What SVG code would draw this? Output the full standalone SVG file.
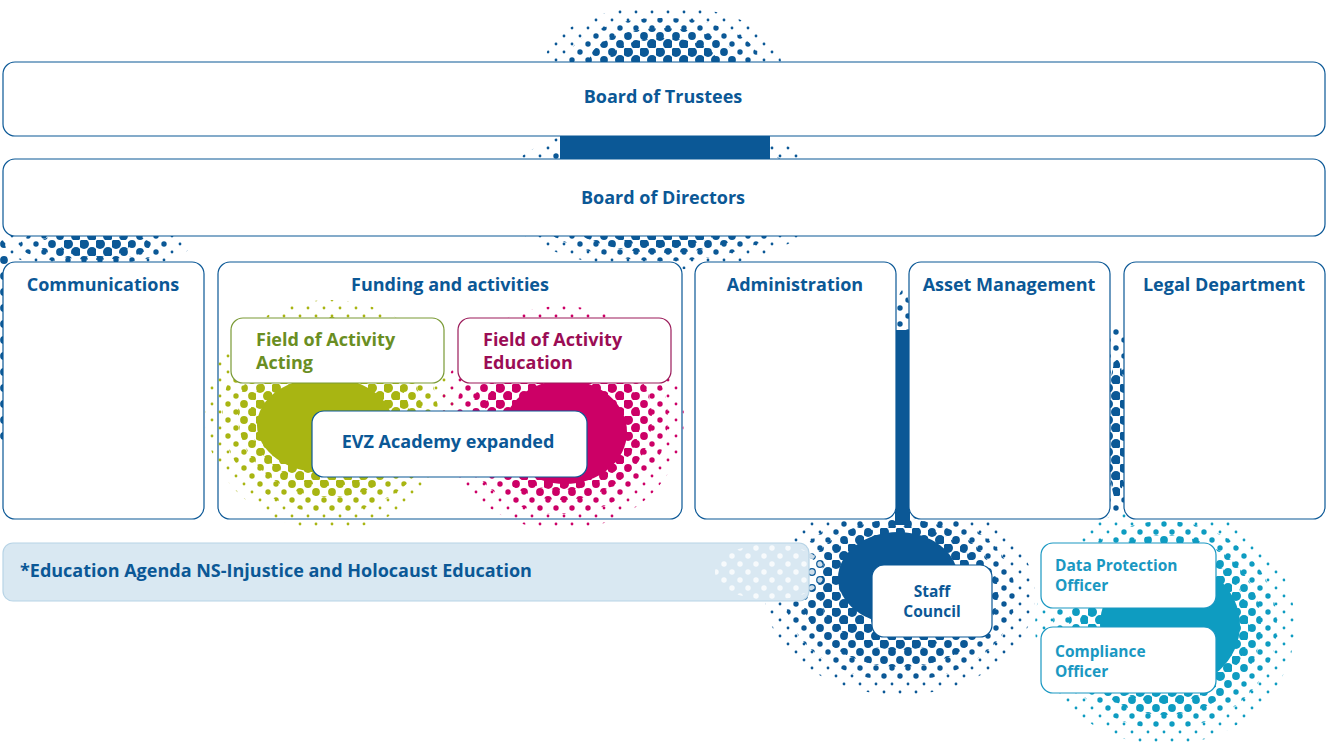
<svg xmlns="http://www.w3.org/2000/svg" width="1326" height="742" viewBox="0 0 1326 742">
<style>
.box{fill:#fff;stroke:#0b5896;stroke-width:1.2}
.t{font-family:"Open Sans","Noto Sans",sans-serif;font-weight:700;font-size:18px;fill:#0b5896}
.m{text-anchor:middle}
.g{fill:#6a8e23}
.p{fill:#9b0d55}
.c{fill:#1a98c2;font-size:15.5px}
.s{font-size:15.5px}
</style>
<defs>
<pattern id="pS" width="16" height="16" patternUnits="userSpaceOnUse"><circle cx="4" cy="4" r="1.4" fill="#fff"/><circle cx="12" cy="12" r="1.4" fill="#fff"/></pattern>
<pattern id="pM" width="16" height="16" patternUnits="userSpaceOnUse"><circle cx="4" cy="4" r="2.7" fill="#fff"/><circle cx="12" cy="12" r="2.7" fill="#fff"/></pattern>
<pattern id="pL" width="16" height="16" patternUnits="userSpaceOnUse"><circle cx="4" cy="4" r="3.9" fill="#fff"/><circle cx="12" cy="12" r="3.9" fill="#fff"/></pattern>
<pattern id="pX" width="16" height="16" patternUnits="userSpaceOnUse"><circle cx="4" cy="4" r="5" fill="#fff"/><circle cx="12" cy="12" r="5" fill="#fff"/></pattern>
<mask id="mBlue" maskUnits="userSpaceOnUse" x="0" y="0" width="1326" height="742">
<ellipse cx="663" cy="62" rx="118" ry="56" fill="url(#pS)"/>
<ellipse cx="663" cy="62" rx="96" ry="44" fill="url(#pM)"/>
<ellipse cx="663" cy="62" rx="74" ry="34" fill="url(#pL)"/>
<ellipse cx="663" cy="62" rx="54" ry="24" fill="url(#pX)"/>
<ellipse cx="663" cy="195" rx="165" ry="75" fill="url(#pS)"/>
<ellipse cx="663" cy="195" rx="140" ry="66" fill="url(#pM)"/>
<ellipse cx="663" cy="195" rx="115" ry="58" fill="url(#pL)"/>
<ellipse cx="663" cy="195" rx="85" ry="52" fill="url(#pX)"/>
<rect x="560" y="130" width="210" height="36" fill="#fff"/>
<ellipse cx="95" cy="245" rx="95" ry="24" fill="url(#pS)"/>
<ellipse cx="95" cy="245" rx="75" ry="19" fill="url(#pM)"/>
<ellipse cx="95" cy="245" rx="55" ry="15" fill="url(#pL)"/>
<ellipse cx="95" cy="245" rx="35" ry="12" fill="url(#pX)"/>
<ellipse cx="2" cy="340" rx="10" ry="100" fill="url(#pL)"/>
<ellipse cx="903" cy="420" rx="14" ry="130" fill="url(#pM)"/>
<rect x="895" y="330" width="15" height="195" fill="#fff"/>
<ellipse cx="900" cy="595" rx="135" ry="100" fill="url(#pS)"/>
<ellipse cx="900" cy="595" rx="115" ry="86" fill="url(#pM)"/>
<ellipse cx="900" cy="593" rx="98" ry="74" fill="url(#pL)"/>
<ellipse cx="900" cy="588" rx="82" ry="62" fill="url(#pX)"/>
<ellipse cx="898" cy="578" rx="60" ry="46" fill="#fff"/>
<ellipse cx="1117" cy="420" rx="12" ry="100" fill="url(#pM)"/>
<ellipse cx="1117" cy="430" rx="9" ry="70" fill="url(#pX)"/>
</mask>
<mask id="mGreen" maskUnits="userSpaceOnUse" x="0" y="0" width="1326" height="742">
<ellipse cx="330" cy="415" rx="125" ry="115" fill="url(#pS)"/>
<ellipse cx="330" cy="415" rx="108" ry="98" fill="url(#pM)"/>
<ellipse cx="330" cy="415" rx="92" ry="82" fill="url(#pL)"/>
<ellipse cx="330" cy="418" rx="80" ry="68" fill="url(#pX)"/>
<ellipse cx="325" cy="425" rx="68" ry="48" fill="#fff"/>
</mask>
<mask id="mPink" maskUnits="userSpaceOnUse" x="0" y="0" width="1326" height="742">
<ellipse cx="562" cy="418" rx="122" ry="112" fill="url(#pS)"/>
<ellipse cx="562" cy="418" rx="106" ry="96" fill="url(#pM)"/>
<ellipse cx="562" cy="418" rx="90" ry="82" fill="url(#pL)"/>
<ellipse cx="562" cy="420" rx="78" ry="70" fill="url(#pX)"/>
<ellipse cx="565" cy="432" rx="62" ry="52" fill="#fff"/>
</mask>
<mask id="mCyan" maskUnits="userSpaceOnUse" x="0" y="0" width="1326" height="742">
<ellipse cx="1165" cy="625" rx="130" ry="120" fill="url(#pS)"/>
<ellipse cx="1165" cy="625" rx="112" ry="104" fill="url(#pM)"/>
<ellipse cx="1165" cy="625" rx="96" ry="90" fill="url(#pL)"/>
<ellipse cx="1165" cy="625" rx="84" ry="78" fill="url(#pX)"/>
<ellipse cx="1170" cy="625" rx="70" ry="64" fill="#fff"/>
</mask>
</defs>
<rect width="1326" height="742" fill="#fff"/>
<g id="halftones">
<rect width="1326" height="742" fill="#0b5896" mask="url(#mBlue)"/>
<rect width="1326" height="742" fill="#0e9cc1" mask="url(#mCyan)"/>
</g>
<g id="connectors"></g>
<g id="board-of-trustees"><rect class="box" x="3" y="62" width="1322" height="74" rx="12"/><text class="t m" x="663" y="103">Board of Trustees</text></g>
<g id="board-of-directors"><rect class="box" x="3" y="159" width="1322" height="77" rx="12"/><text class="t m" x="663" y="204">Board of Directors</text></g>
<g id="communications"><rect class="box" x="3" y="262" width="201" height="257" rx="12"/><text class="t m" x="103" y="291">Communications</text></g>
<g id="funding"><rect class="box" x="218" y="262" width="464" height="257" rx="12"/><text class="t m" x="450" y="291">Funding and activities</text></g>
<g id="administration"><rect class="box" x="695" y="262" width="201" height="257" rx="12"/><text class="t m" x="795" y="291">Administration</text></g>
<g id="asset-management"><rect class="box" x="909" y="262" width="201" height="257" rx="12"/><text class="t m" x="1009" y="291">Asset Management</text></g>
<g id="legal-department"><rect class="box" x="1124" y="262" width="201" height="257" rx="12"/><text class="t m" x="1224" y="291">Legal Department</text></g>
<g id="activity-halftones">
<rect width="1326" height="742" fill="#a8b512" mask="url(#mGreen)"/>
<rect width="1326" height="742" fill="#cc0066" mask="url(#mPink)"/>
</g>
<g id="field-acting"><rect x="231" y="318" width="213" height="65" rx="12" fill="#fff" stroke="#7a9a35" stroke-width="1.2"/><text class="t g" x="256" y="346">Field of Activity</text><text class="t g" x="256" y="369">Acting</text></g>
<g id="field-education"><rect x="458" y="318" width="213" height="65" rx="12" fill="#fff" stroke="#9b1b5a" stroke-width="1.2"/><text class="t p" x="483" y="346">Field of Activity</text><text class="t p" x="483" y="369">Education</text></g>
<g id="evz-academy"><rect class="box" x="312" y="411" width="275" height="66" rx="12"/><text class="t m" x="448" y="448">EVZ Academy expanded</text></g>
<g id="education-agenda"><rect x="3" y="543" width="806" height="58" rx="10" fill="#d9e8f2" stroke="#b8d4e6" stroke-width="1.2"/><ellipse cx="770" cy="572" rx="55" ry="28" fill="url(#pM)" opacity="0.8"/><text class="t" x="20" y="577">*Education Agenda NS-Injustice and Holocaust Education</text></g>
<g id="staff-council"><rect class="box" x="872" y="565" width="120" height="72" rx="12"/><text class="t m s" x="932" y="597">Staff</text><text class="t m s" x="932" y="617">Council</text></g>
<g id="data-protection"><rect x="1041" y="543" width="175" height="65" rx="12" fill="#fff" stroke="#1a98c2" stroke-width="1.2"/><text class="t c" x="1055" y="571">Data Protection</text><text class="t c" x="1055" y="591">Officer</text></g>
<g id="compliance"><rect x="1041" y="627" width="175" height="66" rx="12" fill="#fff" stroke="#1a98c2" stroke-width="1.2"/><text class="t c" x="1055" y="657">Compliance</text><text class="t c" x="1055" y="677">Officer</text></g>
</svg>
